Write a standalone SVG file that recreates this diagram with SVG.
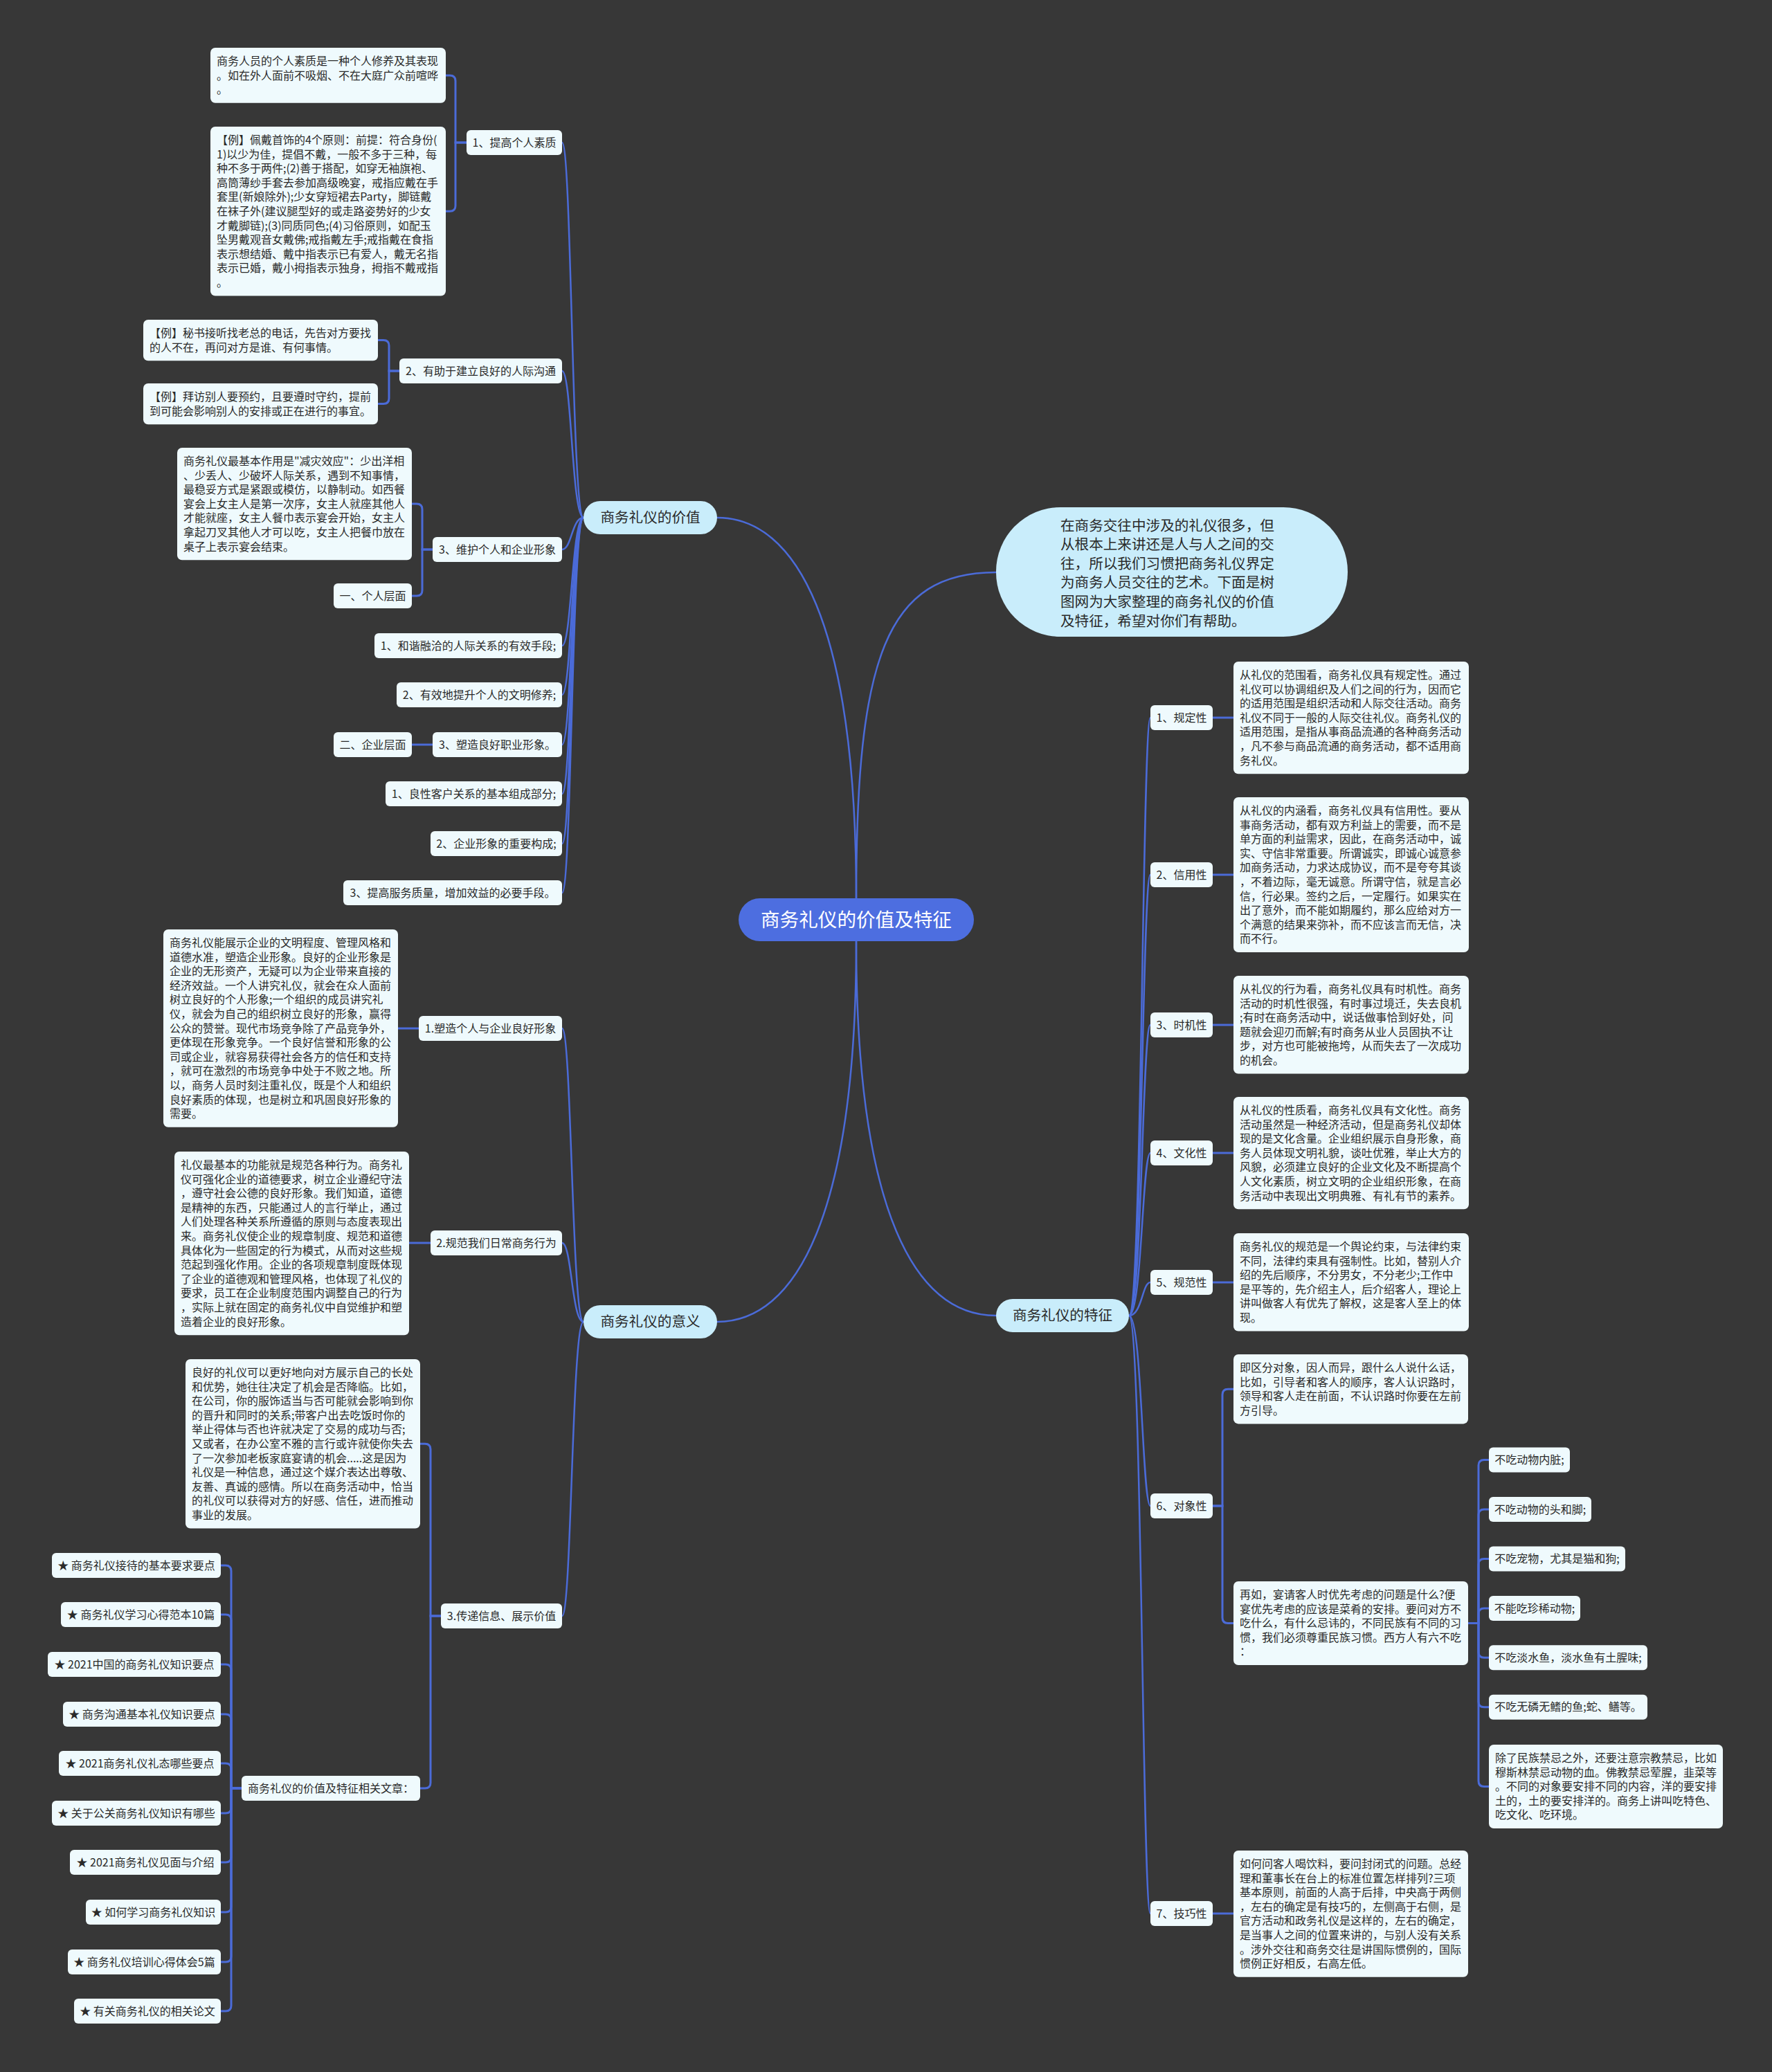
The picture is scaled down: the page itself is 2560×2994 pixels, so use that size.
<svg xmlns="http://www.w3.org/2000/svg" width="2560" height="2994" viewBox="0 0 2560 2994">
<style>
.n rect{fill:#effafd}
.m rect{fill:#c9edfb}
.t{font-family:"Noto Sans CJK SC","Noto Sans",sans-serif;font-size:16px;fill:#2a2a2a}
.tc{font-family:"Noto Sans CJK SC","Noto Sans",sans-serif;font-size:16px;fill:#2a2a2a;text-anchor:middle}
.tm{font-family:"Noto Sans CJK SC","Noto Sans",sans-serif;font-size:20.6px;fill:#2a2a2a;text-anchor:middle}
.ti{font-family:"Noto Sans CJK SC","Noto Sans",sans-serif;font-size:20.6px;fill:#2a2a2a}
.tr{font-family:"Noto Sans CJK SC","Noto Sans",sans-serif;font-size:27.6px;fill:#ffffff;text-anchor:middle}
.c{fill:none;stroke:#4b6bd8;stroke-width:3;stroke-linecap:round}
.c2{fill:none;stroke:#4b6bd8;stroke-width:2.5;stroke-linecap:round}
</style>
<rect x="0" y="0" width="2560" height="2994" fill="#373737"/>

<g id="connectors">
<path class="c2" d="M1237 1298 C1237 900 1150 748 1036 748"/>
<path class="c2" d="M1237 1298 C1237 950 1280 827 1439 827"/>
<path class="c2" d="M1237 1360 C1237 1756 1150 1910 1036 1910"/>
<path class="c2" d="M1237 1360 C1237 1756 1324 1901 1439 1901"/>
<path class="c2" d="M843 748 C826 748 826 206 812 206"/>
<path class="c2" d="M843 748 C826 748 826 536 812 536"/>
<path class="c2" d="M843 748 C826 748 826 794 812 794"/>
<path class="c2" d="M843 748 C826 748 826 933 812 933"/>
<path class="c2" d="M843 748 C826 748 826 1004 812 1004"/>
<path class="c2" d="M843 748 C826 748 826 1076 812 1076"/>
<path class="c2" d="M843 748 C826 748 826 1147 812 1147"/>
<path class="c2" d="M843 748 C826 748 826 1219 812 1219"/>
<path class="c2" d="M843 748 C826 748 826 1290 812 1290"/>
<path class="c2" d="M843 1910 C826 1910 826 1486 812 1486"/>
<path class="c2" d="M843 1910 C826 1910 826 1796 812 1796"/>
<path class="c2" d="M843 1910 C826 1910 826 2335 812 2335"/>
<path class="c2" d="M1631 1901 C1650 1901 1650 1037 1662 1037"/>
<path class="c2" d="M1631 1901 C1650 1901 1650 1264 1662 1264"/>
<path class="c2" d="M1631 1901 C1650 1901 1650 1481 1662 1481"/>
<path class="c2" d="M1631 1901 C1650 1901 1650 1666 1662 1666"/>
<path class="c2" d="M1631 1901 C1650 1901 1650 1853 1662 1853"/>
<path class="c2" d="M1631 1901 C1650 1901 1650 2176 1662 2176"/>
<path class="c2" d="M1631 1901 C1650 1901 1650 2765 1662 2765"/>
<path class="c" d="M674 206 H658 V116.9 Q658 108.9 650 108.9 H644"/>
<path class="c" d="M674 206 H658 V297.3 Q658 305.3 650 305.3 H644"/>
<path class="c" d="M577 536 H562 V499.6 Q562 491.6 554 491.6 H546"/>
<path class="c" d="M577 536 H562 V575.6 Q562 583.6 554 583.6 H546"/>
<path class="c" d="M625 794 H610 V736.1 Q610 728.1 602 728.1 H595"/>
<path class="c" d="M625 794 H610 V853 Q610 861 602 861 H595"/>
<path class="c" d="M625 1076 H595"/>
<path class="c" d="M605 1486 H575"/>
<path class="c" d="M622 1796 H591"/>
<path class="c" d="M637 2335 H622 V2094.3 Q622 2086.3 614 2086.3 H607"/>
<path class="c" d="M637 2335 H622 V2576 Q622 2584 614 2584 H607"/>
<path class="c" d="M349 2584 H334 V2270 Q334 2262 326 2262 H319"/>
<path class="c" d="M349 2584 H334 V2341 Q334 2333 326 2333 H319"/>
<path class="c" d="M349 2584 H334 V2413 Q334 2405 326 2405 H319"/>
<path class="c" d="M349 2584 H334 V2485 Q334 2477 326 2477 H319"/>
<path class="c" d="M349 2584 H334 V2556 Q334 2548 326 2548 H319"/>
<path class="c" d="M349 2584 H334 V2612 Q334 2620 326 2620 H319"/>
<path class="c" d="M349 2584 H334 V2683 Q334 2691 326 2691 H319"/>
<path class="c" d="M349 2584 H334 V2755 Q334 2763 326 2763 H319"/>
<path class="c" d="M349 2584 H334 V2827 Q334 2835 326 2835 H319"/>
<path class="c" d="M349 2584 H334 V2898 Q334 2906 326 2906 H319"/>
<path class="c" d="M1752 1037 H1782"/>
<path class="c" d="M1752 1264 H1782"/>
<path class="c" d="M1752 1481 H1782"/>
<path class="c" d="M1752 1666 H1782"/>
<path class="c" d="M1752 1853 H1782"/>
<path class="c" d="M1752 2765 H1782"/>
<path class="c" d="M1752 2176 H1766 V2015.2 Q1766 2007.2 1774 2007.2 H1782"/>
<path class="c" d="M1752 2176 H1766 V2337.5 Q1766 2345.5 1774 2345.5 H1782"/>
<path class="c" d="M2121 2345.5 H2136 V2117.5 Q2136 2109.5 2144 2109.5 H2151"/>
<path class="c" d="M2121 2345.5 H2136 V2189 Q2136 2181 2144 2181 H2151"/>
<path class="c" d="M2121 2345.5 H2136 V2260.6 Q2136 2252.6 2144 2252.6 H2151"/>
<path class="c" d="M2121 2345.5 H2136 V2332 Q2136 2324 2144 2324 H2151"/>
<path class="c" d="M2121 2345.5 H2136 V2387.3 Q2136 2395.3 2144 2395.3 H2151"/>
<path class="c" d="M2121 2345.5 H2136 V2458.8 Q2136 2466.8 2144 2466.8 H2151"/>
<path class="c" d="M2121 2345.5 H2136 V2573.5 Q2136 2581.5 2144 2581.5 H2151"/>
</g>

<g id="root"><rect x="1067" y="1298" width="340" height="62" rx="31" fill="#4d6ee0"/><text class="tr" x="1237" y="1338.8">商务礼仪的价值及特征</text></g>

<g id="intro" class="m"><rect x="1439" y="733" width="508" height="187" rx="93"/>
<text class="ti" x="1532" y="766.6"><tspan x="1532">在商务交往中涉及的礼仪很多，但</tspan><tspan x="1532" dy="27.6">从根本上来讲还是人与人之间的交</tspan><tspan x="1532" dy="27.6">往，所以我们习惯把商务礼仪界定</tspan><tspan x="1532" dy="27.6">为商务人员交往的艺术。下面是树</tspan><tspan x="1532" dy="27.6">图网为大家整理的商务礼仪的价值</tspan><tspan x="1532" dy="27.6">及特征，希望对你们有帮助。</tspan></text></g>

<g id="value" class="m"><rect x="843" y="724" width="193" height="48" rx="24"/><text class="tm" x="939.5" y="755.2">商务礼仪的价值</text></g>
<g id="meaning" class="m"><rect x="843" y="1886" width="193" height="48" rx="24"/><text class="tm" x="939.5" y="1917.2">商务礼仪的意义</text></g>
<g id="feature" class="m"><rect x="1439" y="1877" width="192" height="48" rx="24"/><text class="tm" x="1535" y="1908.2">商务礼仪的特征</text></g>

<g id="v1" class="n"><rect x="674" y="188" width="138" height="36" rx="6"/><text class="tc" x="743" y="211.5">1、提高个人素质</text></g>
<g id="v1a" class="n"><rect x="304" y="69" width="340" height="79.8" rx="7"/>
<text class="t" x="313" y="93.9"><tspan x="313">商务人员的个人素质是一种个人修养及其表现</tspan><tspan x="313" dy="20.6">。如在外人面前不吸烟、不在大庭广众前喧哗</tspan><tspan x="313" dy="20.6">。</tspan></text></g>
<g id="v1b" class="n"><rect x="304" y="183" width="340" height="244.6" rx="7"/>
<text class="t" x="313" y="207.9"><tspan x="313">【例】佩戴首饰的4个原则：前提：符合身份(</tspan><tspan x="313" dy="20.6">1)以少为佳，提倡不戴，一般不多于三种，每</tspan><tspan x="313" dy="20.6">种不多于两件;(2)善于搭配，如穿无袖旗袍、</tspan><tspan x="313" dy="20.6">高筒薄纱手套去参加高级晚宴，戒指应戴在手</tspan><tspan x="313" dy="20.6">套里(新娘除外);少女穿短裙去Party，脚链戴</tspan><tspan x="313" dy="20.6">在袜子外(建议腿型好的或走路姿势好的少女</tspan><tspan x="313" dy="20.6">才戴脚链);(3)同质同色;(4)习俗原则，如配玉</tspan><tspan x="313" dy="20.6">坠男戴观音女戴佛;戒指戴左手;戒指戴在食指</tspan><tspan x="313" dy="20.6">表示想结婚、戴中指表示已有爱人，戴无名指</tspan><tspan x="313" dy="20.6">表示已婚，戴小拇指表示独身，拇指不戴戒指</tspan><tspan x="313" dy="20.6">。</tspan></text></g>

<g id="v2" class="n"><rect x="577" y="518" width="235" height="36" rx="6"/><text class="tc" x="694.5" y="541.5">2、有助于建立良好的人际沟通</text></g>
<g id="v2a" class="n"><rect x="207" y="462" width="339" height="59.2" rx="7"/>
<text class="t" x="216" y="486.9"><tspan x="216">【例】秘书接听找老总的电话，先告对方要找</tspan><tspan x="216" dy="20.6">的人不在，再问对方是谁、有何事情。</tspan></text></g>
<g id="v2b" class="n"><rect x="207" y="554" width="339" height="59.2" rx="7"/>
<text class="t" x="216" y="578.9"><tspan x="216">【例】拜访别人要预约，且要遵时守约，提前</tspan><tspan x="216" dy="20.6">到可能会影响别人的安排或正在进行的事宜。</tspan></text></g>

<g id="v3" class="n"><rect x="625" y="776" width="187" height="36" rx="6"/><text class="tc" x="718.5" y="799.5">3、维护个人和企业形象</text></g>
<g id="v3a" class="n"><rect x="256" y="647" width="339" height="162.2" rx="7"/>
<text class="t" x="265" y="671.9"><tspan x="265">商务礼仪最基本作用是"减灾效应"：少出洋相</tspan><tspan x="265" dy="20.6">、少丢人、少破坏人际关系，遇到不知事情，</tspan><tspan x="265" dy="20.6">最稳妥方式是紧跟或模仿，以静制动。如西餐</tspan><tspan x="265" dy="20.6">宴会上女主人是第一次序，女主人就座其他人</tspan><tspan x="265" dy="20.6">才能就座，女主人餐巾表示宴会开始，女主人</tspan><tspan x="265" dy="20.6">拿起刀叉其他人才可以吃，女主人把餐巾放在</tspan><tspan x="265" dy="20.6">桌子上表示宴会结束。</tspan></text></g>
<g id="v3b" class="n"><rect x="482" y="843" width="113" height="36" rx="6"/><text class="tc" x="538.5" y="866.5">一、个人层面</text></g>
<g id="v4" class="n"><rect x="541" y="915" width="271" height="36" rx="6"/><text class="tc" x="676.5" y="938.5">1、和谐融洽的人际关系的有效手段;</text></g>
<g id="v5" class="n"><rect x="573" y="986" width="239" height="36" rx="6"/><text class="tc" x="692.5" y="1009.5">2、有效地提升个人的文明修养;</text></g>
<g id="v6" class="n"><rect x="625" y="1058" width="187" height="36" rx="6"/><text class="tc" x="718.5" y="1081.5">3、塑造良好职业形象。</text></g>
<g id="v6a" class="n"><rect x="482" y="1058" width="113" height="36" rx="6"/><text class="tc" x="538.5" y="1081.5">二、企业层面</text></g>
<g id="v7" class="n"><rect x="557" y="1129" width="255" height="36" rx="6"/><text class="tc" x="684.5" y="1152.5">1、良性客户关系的基本组成部分;</text></g>
<g id="v8" class="n"><rect x="622" y="1201" width="190" height="36" rx="6"/><text class="tc" x="717" y="1224.5">2、企业形象的重要构成;</text></g>
<g id="v9" class="n"><rect x="496" y="1272" width="316" height="36" rx="6"/><text class="tc" x="654" y="1295.5">3、提高服务质量，增加效益的必要手段。</text></g>

<g id="m1" class="n"><rect x="605" y="1468" width="207" height="36" rx="6"/><text class="tc" x="708.5" y="1491.5">1.塑造个人与企业良好形象</text></g>
<g id="m1a" class="n"><rect x="236" y="1343" width="339" height="285.8" rx="7"/>
<text class="t" x="245" y="1367.9"><tspan x="245">商务礼仪能展示企业的文明程度、管理风格和</tspan><tspan x="245" dy="20.6">道德水准，塑造企业形象。良好的企业形象是</tspan><tspan x="245" dy="20.6">企业的无形资产，无疑可以为企业带来直接的</tspan><tspan x="245" dy="20.6">经济效益。一个人讲究礼仪，就会在众人面前</tspan><tspan x="245" dy="20.6">树立良好的个人形象;一个组织的成员讲究礼</tspan><tspan x="245" dy="20.6">仪，就会为自己的组织树立良好的形象，赢得</tspan><tspan x="245" dy="20.6">公众的赞誉。现代市场竞争除了产品竞争外，</tspan><tspan x="245" dy="20.6">更体现在形象竞争。一个良好信誉和形象的公</tspan><tspan x="245" dy="20.6">司或企业，就容易获得社会各方的信任和支持</tspan><tspan x="245" dy="20.6">，就可在激烈的市场竞争中处于不败之地。所</tspan><tspan x="245" dy="20.6">以，商务人员时刻注重礼仪，既是个人和组织</tspan><tspan x="245" dy="20.6">良好素质的体现，也是树立和巩固良好形象的</tspan><tspan x="245" dy="20.6">需要。</tspan></text></g>

<g id="m2" class="n"><rect x="622" y="1778" width="190" height="36" rx="6"/><text class="tc" x="717" y="1801.5">2.规范我们日常商务行为</text></g>
<g id="m2a" class="n"><rect x="252" y="1664" width="339" height="265.2" rx="7"/>
<text class="t" x="261" y="1688.9"><tspan x="261">礼仪最基本的功能就是规范各种行为。商务礼</tspan><tspan x="261" dy="20.6">仪可强化企业的道德要求，树立企业遵纪守法</tspan><tspan x="261" dy="20.6">，遵守社会公德的良好形象。我们知道，道德</tspan><tspan x="261" dy="20.6">是精神的东西，只能通过人的言行举止，通过</tspan><tspan x="261" dy="20.6">人们处理各种关系所遵循的原则与态度表现出</tspan><tspan x="261" dy="20.6">来。商务礼仪使企业的规章制度、规范和道德</tspan><tspan x="261" dy="20.6">具体化为一些固定的行为模式，从而对这些规</tspan><tspan x="261" dy="20.6">范起到强化作用。企业的各项规章制度既体现</tspan><tspan x="261" dy="20.6">了企业的道德观和管理风格，也体现了礼仪的</tspan><tspan x="261" dy="20.6">要求，员工在企业制度范围内调整自己的行为</tspan><tspan x="261" dy="20.6">，实际上就在固定的商务礼仪中自觉维护和塑</tspan><tspan x="261" dy="20.6">造着企业的良好形象。</tspan></text></g>

<g id="m3" class="n"><rect x="637" y="2317" width="175" height="36" rx="6"/><text class="tc" x="724.5" y="2340.5">3.传递信息、展示价值</text></g>
<g id="m3a" class="n"><rect x="268" y="1964" width="339" height="244.6" rx="7"/>
<text class="t" x="277" y="1988.9"><tspan x="277">良好的礼仪可以更好地向对方展示自己的长处</tspan><tspan x="277" dy="20.6">和优势，她往往决定了机会是否降临。比如，</tspan><tspan x="277" dy="20.6">在公司，你的服饰适当与否可能就会影响到你</tspan><tspan x="277" dy="20.6">的晋升和同时的关系;带客户出去吃饭时你的</tspan><tspan x="277" dy="20.6">举止得体与否也许就决定了交易的成功与否;</tspan><tspan x="277" dy="20.6">又或者，在办公室不雅的言行或许就使你失去</tspan><tspan x="277" dy="20.6">了一次参加老板家庭宴请的机会.....这是因为</tspan><tspan x="277" dy="20.6">礼仪是一种信息，通过这个媒介表达出尊敬、</tspan><tspan x="277" dy="20.6">友善、真诚的感情。所以在商务活动中，恰当</tspan><tspan x="277" dy="20.6">的礼仪可以获得对方的好感、信任，进而推动</tspan><tspan x="277" dy="20.6">事业的发展。</tspan></text></g>
<g id="m3b" class="n"><rect x="349" y="2566" width="258" height="36" rx="6"/><text class="tc" x="478" y="2589.5">商务礼仪的价值及特征相关文章：</text></g>

<g id="a1" class="n"><rect x="75" y="2244" width="244" height="36" rx="6"/><text class="tc" x="197" y="2267.5">★ 商务礼仪接待的基本要求要点</text></g>
<g id="a2" class="n"><rect x="88" y="2315" width="231" height="36" rx="6"/><text class="tc" x="203.5" y="2338.5">★ 商务礼仪学习心得范本10篇</text></g>
<g id="a3" class="n"><rect x="69" y="2387" width="250" height="36" rx="6"/><text class="tc" x="194" y="2410.5">★ 2021中国的商务礼仪知识要点</text></g>
<g id="a4" class="n"><rect x="91" y="2459" width="228" height="36" rx="6"/><text class="tc" x="205" y="2482.5">★ 商务沟通基本礼仪知识要点</text></g>
<g id="a5" class="n"><rect x="85" y="2530" width="234" height="36" rx="6"/><text class="tc" x="202" y="2553.5">★ 2021商务礼仪礼态哪些要点</text></g>
<g id="a6" class="n"><rect x="75" y="2602" width="244" height="36" rx="6"/><text class="tc" x="197" y="2625.5">★ 关于公关商务礼仪知识有哪些</text></g>
<g id="a7" class="n"><rect x="101" y="2673" width="218" height="36" rx="6"/><text class="tc" x="210" y="2696.5">★ 2021商务礼仪见面与介绍</text></g>
<g id="a8" class="n"><rect x="124" y="2745" width="195" height="36" rx="6"/><text class="tc" x="221.5" y="2768.5">★ 如何学习商务礼仪知识</text></g>
<g id="a9" class="n"><rect x="98" y="2817" width="221" height="36" rx="6"/><text class="tc" x="208.5" y="2840.5">★ 商务礼仪培训心得体会5篇</text></g>
<g id="a10" class="n"><rect x="107" y="2888" width="212" height="36" rx="6"/><text class="tc" x="213" y="2911.5">★ 有关商务礼仪的相关论文</text></g>

<g id="f1" class="n"><rect x="1662" y="1019" width="90" height="36" rx="6"/><text class="tc" x="1707" y="1042.5">1、规定性</text></g>
<g id="f1a" class="n"><rect x="1782" y="956" width="340" height="162.2" rx="7"/>
<text class="t" x="1791" y="980.9"><tspan x="1791">从礼仪的范围看，商务礼仪具有规定性。通过</tspan><tspan x="1791" dy="20.6">礼仪可以协调组织及人们之间的行为，因而它</tspan><tspan x="1791" dy="20.6">的适用范围是组织活动和人际交往活动。商务</tspan><tspan x="1791" dy="20.6">礼仪不同于一般的人际交往礼仪。商务礼仪的</tspan><tspan x="1791" dy="20.6">适用范围，是指从事商品流通的各种商务活动</tspan><tspan x="1791" dy="20.6">，凡不参与商品流通的商务活动，都不适用商</tspan><tspan x="1791" dy="20.6">务礼仪。</tspan></text></g>

<g id="f2" class="n"><rect x="1662" y="1246" width="90" height="36" rx="6"/><text class="tc" x="1707" y="1269.5">2、信用性</text></g>
<g id="f2a" class="n"><rect x="1782" y="1152" width="340" height="224" rx="7"/>
<text class="t" x="1791" y="1176.9"><tspan x="1791">从礼仪的内涵看，商务礼仪具有信用性。要从</tspan><tspan x="1791" dy="20.6">事商务活动，都有双方利益上的需要，而不是</tspan><tspan x="1791" dy="20.6">单方面的利益需求，因此，在商务活动中，诚</tspan><tspan x="1791" dy="20.6">实、守信非常重要。所谓诚实，即诚心诚意参</tspan><tspan x="1791" dy="20.6">加商务活动，力求达成协议，而不是夸夸其谈</tspan><tspan x="1791" dy="20.6">，不着边际，毫无诚意。所谓守信，就是言必</tspan><tspan x="1791" dy="20.6">信，行必果。签约之后，一定履行。如果实在</tspan><tspan x="1791" dy="20.6">出了意外，而不能如期履约，那么应给对方一</tspan><tspan x="1791" dy="20.6">个满意的结果来弥补，而不应该言而无信，决</tspan><tspan x="1791" dy="20.6">而不行。</tspan></text></g>

<g id="f3" class="n"><rect x="1662" y="1463" width="90" height="36" rx="6"/><text class="tc" x="1707" y="1486.5">3、时机性</text></g>
<g id="f3a" class="n"><rect x="1782" y="1410" width="340" height="141.6" rx="7"/>
<text class="t" x="1791" y="1434.9"><tspan x="1791">从礼仪的行为看，商务礼仪具有时机性。商务</tspan><tspan x="1791" dy="20.6">活动的时机性很强，有时事过境迁，失去良机</tspan><tspan x="1791" dy="20.6">;有时在商务活动中，说话做事恰到好处，问</tspan><tspan x="1791" dy="20.6">题就会迎刃而解;有时商务从业人员固执不让</tspan><tspan x="1791" dy="20.6">步，对方也可能被拖垮，从而失去了一次成功</tspan><tspan x="1791" dy="20.6">的机会。</tspan></text></g>

<g id="f4" class="n"><rect x="1662" y="1648" width="90" height="36" rx="6"/><text class="tc" x="1707" y="1671.5">4、文化性</text></g>
<g id="f4a" class="n"><rect x="1782" y="1585" width="340" height="162.2" rx="7"/>
<text class="t" x="1791" y="1609.9"><tspan x="1791">从礼仪的性质看，商务礼仪具有文化性。商务</tspan><tspan x="1791" dy="20.6">活动虽然是一种经济活动，但是商务礼仪却体</tspan><tspan x="1791" dy="20.6">现的是文化含量。企业组织展示自身形象，商</tspan><tspan x="1791" dy="20.6">务人员体现文明礼貌，谈吐优雅，举止大方的</tspan><tspan x="1791" dy="20.6">风貌，必须建立良好的企业文化及不断提高个</tspan><tspan x="1791" dy="20.6">人文化素质，树立文明的企业组织形象，在商</tspan><tspan x="1791" dy="20.6">务活动中表现出文明典雅、有礼有节的素养。</tspan></text></g>

<g id="f5" class="n"><rect x="1662" y="1835" width="90" height="36" rx="6"/><text class="tc" x="1707" y="1858.5">5、规范性</text></g>
<g id="f5a" class="n"><rect x="1782" y="1782" width="340" height="141.6" rx="7"/>
<text class="t" x="1791" y="1806.9"><tspan x="1791">商务礼仪的规范是一个舆论约束，与法律约束</tspan><tspan x="1791" dy="20.6">不同，法律约束具有强制性。比如，替别人介</tspan><tspan x="1791" dy="20.6">绍的先后顺序，不分男女，不分老少;工作中</tspan><tspan x="1791" dy="20.6">是平等的，先介绍主人，后介绍客人，理论上</tspan><tspan x="1791" dy="20.6">讲叫做客人有优先了解权，这是客人至上的体</tspan><tspan x="1791" dy="20.6">现。</tspan></text></g>

<g id="f6" class="n"><rect x="1662" y="2158" width="90" height="36" rx="6"/><text class="tc" x="1707" y="2181.5">6、对象性</text></g>
<g id="f6a" class="n"><rect x="1782" y="1957" width="339" height="100.4" rx="7"/>
<text class="t" x="1791" y="1981.9"><tspan x="1791">即区分对象，因人而异，跟什么人说什么话，</tspan><tspan x="1791" dy="20.6">比如，引导者和客人的顺序，客人认识路时，</tspan><tspan x="1791" dy="20.6">领导和客人走在前面，不认识路时你要在左前</tspan><tspan x="1791" dy="20.6">方引导。</tspan></text></g>
<g id="f6b" class="n"><rect x="1782" y="2285" width="339" height="121" rx="7"/>
<text class="t" x="1791" y="2309.9"><tspan x="1791">再如，宴请客人时优先考虑的问题是什么?便</tspan><tspan x="1791" dy="20.6">宴优先考虑的应该是菜肴的安排。要问对方不</tspan><tspan x="1791" dy="20.6">吃什么，有什么忌讳的，不同民族有不同的习</tspan><tspan x="1791" dy="20.6">惯，我们必须尊重民族习惯。西方人有六不吃</tspan><tspan x="1791" dy="20.6">：</tspan></text></g>
<g id="e1" class="n"><rect x="2151" y="2091.5" width="117" height="36" rx="6"/><text class="tc" x="2209.5" y="2115">不吃动物内脏;</text></g>
<g id="e2" class="n"><rect x="2151" y="2163" width="148" height="36" rx="6"/><text class="tc" x="2225" y="2186.5">不吃动物的头和脚;</text></g>
<g id="e3" class="n"><rect x="2151" y="2234.6" width="197" height="36" rx="6"/><text class="tc" x="2249.5" y="2258.1">不吃宠物，尤其是猫和狗;</text></g>
<g id="e4" class="n"><rect x="2151" y="2306" width="132" height="36" rx="6"/><text class="tc" x="2217" y="2329.5">不能吃珍稀动物;</text></g>
<g id="e5" class="n"><rect x="2151" y="2377.3" width="229" height="36" rx="6"/><text class="tc" x="2265.5" y="2400.8">不吃淡水鱼，淡水鱼有土腥味;</text></g>
<g id="e6" class="n"><rect x="2151" y="2448.8" width="229" height="36" rx="6"/><text class="tc" x="2265.5" y="2472.3">不吃无磷无鳍的鱼;蛇、鳝等。</text></g>
<g id="e7" class="n"><rect x="2151" y="2521" width="338" height="121" rx="7"/>
<text class="t" x="2160" y="2545.9"><tspan x="2160">除了民族禁忌之外，还要注意宗教禁忌，比如</tspan><tspan x="2160" dy="20.6">穆斯林禁忌动物的血。佛教禁忌荤腥，韭菜等</tspan><tspan x="2160" dy="20.6">。不同的对象要安排不同的内容，洋的要安排</tspan><tspan x="2160" dy="20.6">土的，土的要安排洋的。商务上讲叫吃特色、</tspan><tspan x="2160" dy="20.6">吃文化、吃环境。</tspan></text></g>

<g id="f7" class="n"><rect x="1662" y="2747" width="90" height="36" rx="6"/><text class="tc" x="1707" y="2770.5">7、技巧性</text></g>
<g id="f7a" class="n"><rect x="1782" y="2674" width="339" height="182.8" rx="7"/>
<text class="t" x="1791" y="2698.9"><tspan x="1791">如何问客人喝饮料，要问封闭式的问题。总经</tspan><tspan x="1791" dy="20.6">理和董事长在台上的标准位置怎样排列?三项</tspan><tspan x="1791" dy="20.6">基本原则，前面的人高于后排，中央高于两侧</tspan><tspan x="1791" dy="20.6">，左右的确定是有技巧的，左侧高于右侧，是</tspan><tspan x="1791" dy="20.6">官方活动和政务礼仪是这样的，左右的确定，</tspan><tspan x="1791" dy="20.6">是当事人之间的位置来讲的，与别人没有关系</tspan><tspan x="1791" dy="20.6">。涉外交往和商务交往是讲国际惯例的，国际</tspan><tspan x="1791" dy="20.6">惯例正好相反，右高左低。</tspan></text></g>
</svg>
